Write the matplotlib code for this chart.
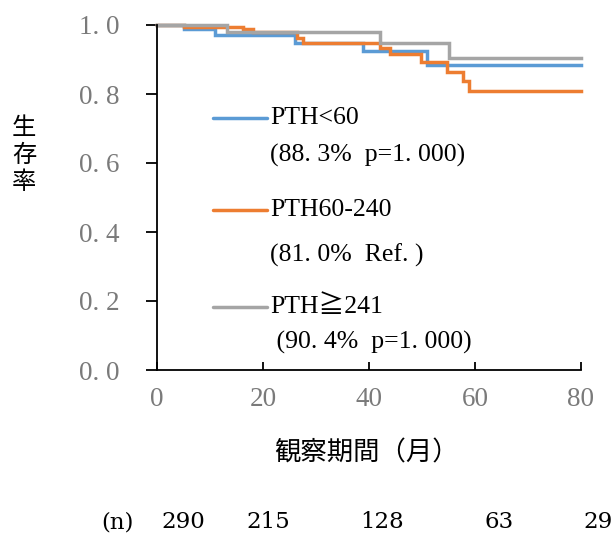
import matplotlib
matplotlib.use('Agg')
import matplotlib.pyplot as plt
from matplotlib.lines import Line2D

plt.rcParams['font.family'] = ['Liberation Serif', 'Noto Sans CJK JP', 'DejaVu Sans']

# 生存曲線（読み取り値）
blue_t = [0, 5, 11, 26, 38.9, 50.9, 80]
blue_s = [1.0, 0.988, 0.970, 0.948, 0.925, 0.883, 0.883]
orange_t = [0, 5, 16.3, 18.2, 26.4, 27.5, 42.1, 44, 49.9, 54.8, 57.8, 58.9, 80]
orange_s = [1.0, 0.993, 0.987, 0.980, 0.962, 0.947, 0.932, 0.915, 0.894, 0.865, 0.838, 0.810, 0.810]
gray_t = [0, 13.2, 42, 55.1, 80]
gray_s = [1.0, 0.981, 0.949, 0.904, 0.904]

series_names = ['PTH<60', 'PTH60-240', 'PTH≧241']
series_notes = ['(88. 3%  p=1. 000)', '(81. 0%  Ref. )', ' (90. 4%  p=1. 000)']
colors = ['#5B9BD5', '#ED7D31', '#A5A5A5']

xticks = [0, 20, 40, 60, 80]
yticks = [0.0, 0.2, 0.4, 0.6, 0.8, 1.0]
ytick_labels = ['0. 0', '0. 2', '0. 4', '0. 6', '0. 8', '1. 0']

risk_label = '(n)'
risk_n = [290, 215, 128, 63, 29]
risk_x_px = [183, 268, 382, 499, 598]

W, H = 613, 538
fig = plt.figure(figsize=(W / 100, H / 100), dpi=100)
ax = fig.add_axes([157 / W, 1 - 370 / H, (581 - 157) / W, (370 - 25) / H])

for t, s, c in zip([blue_t, orange_t, gray_t], [blue_s, orange_s, gray_s], colors):
    ax.step(t, s, where='post', color=c, lw=2.5, clip_on=False, solid_joinstyle='miter')

ax.set_xlim(0, 80)
ax.set_ylim(0, 1.0)
ax.set_xticks(xticks)
ax.set_yticks(yticks, ytick_labels)
ax.spines['top'].set_visible(False)
ax.spines['right'].set_visible(False)
for sp in ['left', 'bottom']:
    ax.spines[sp].set_linewidth(1.3)
ax.tick_params(axis='y', direction='out', length=8, width=1.3, pad=19,
               labelsize=19.5, labelcolor='#7a7a7a')
ax.tick_params(axis='x', direction='in', length=6, width=1.3, pad=12,
               labelsize=19.5, labelcolor='#7a7a7a')

# 凡例
name_y = [118, 210, 307]
note_y = [155, 255, 342]
for name, note, c, y1, y2 in zip(series_names, series_notes, colors, name_y, note_y):
    fig.add_artist(Line2D([213 / W, 267 / W], [1 - y1 / H, 1 - y1 / H],
                          color=c, lw=2.5, solid_capstyle='round'))
    fig.text(270 / W, 1 - y1 / H, name, fontsize=18.5, va='center', ha='left')
    fig.text(270 / W, 1 - y2 / H, note, fontsize=18.5, va='center', ha='left')

fig.text(24 / W, 1 - 155 / H, '生\n存\n率', family='Noto Sans CJK JP', fontsize=17.5,
         ha='center', va='center', linespacing=1.05)
fig.text(367 / W, 1 - 453 / H, '観察期間（月）', family='Noto Sans CJK JP', fontsize=19,
         ha='center', va='center')

fig.text(117 / W, 1 - 522 / H, risk_label, family='DejaVu Serif', fontsize=16.5,
         ha='center', va='center')
for n, xp in zip(risk_n, risk_x_px):
    fig.text(xp / W, 1 - 522 / H, str(n), family='DejaVu Serif', fontsize=16.5,
             ha='center', va='center')

fig.savefig('out.png', dpi=100)
